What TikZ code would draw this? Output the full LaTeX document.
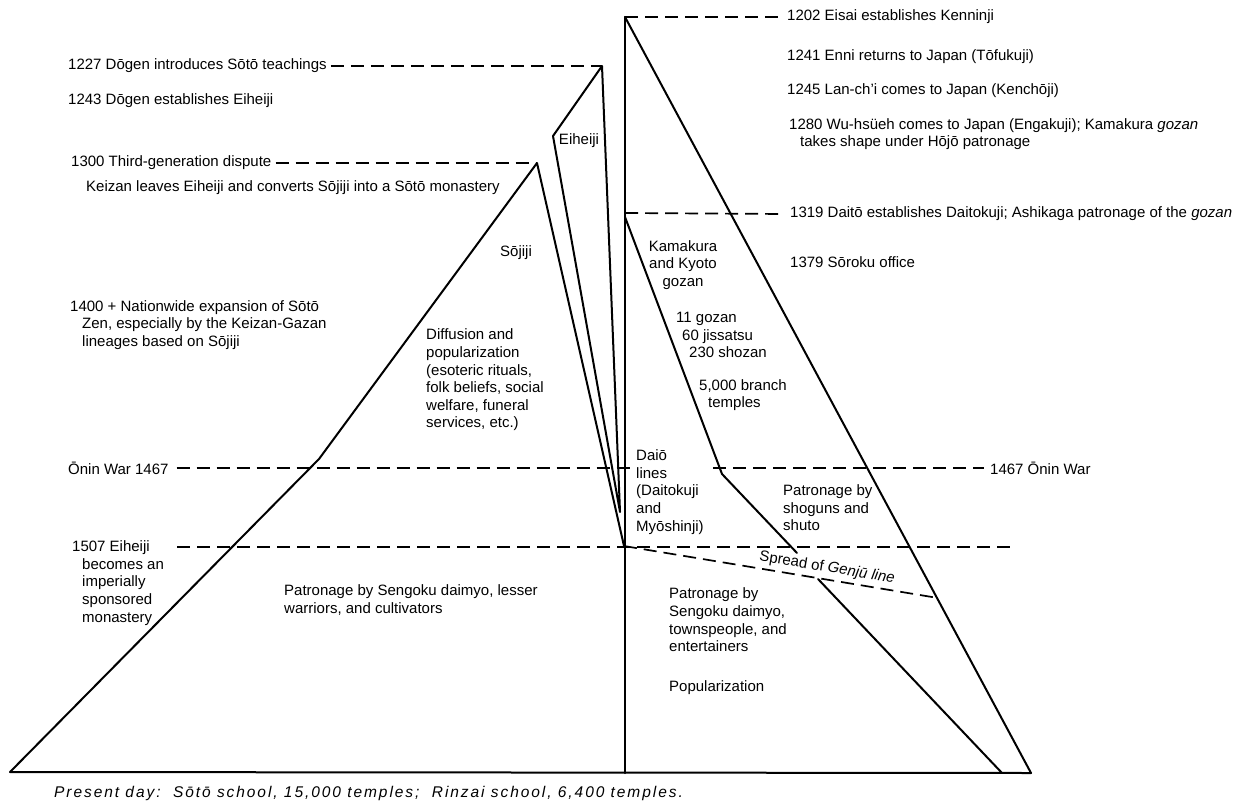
\documentclass[tikz,border=0pt]{standalone}
\usepackage{fontspec}
\setmainfont{Liberation Sans}
\newfontfamily\presentfont[LetterSpace=12.5]{Liberation Sans}
\begin{document}
\begin{tikzpicture}[x=1pt,y=-1pt,
  every node/.style={font=\fontsize{15}{17.6}\selectfont, inner sep=0pt},
  txt/.style={anchor=west, align=left},
  ctr/.style={anchor=center, align=center},
  edge/.style={line width=2pt, line join=round, line cap=round},
  dline/.style={line width=1.7pt, dash pattern=on 13pt off 7pt}]
\useasboundingbox (0,0) rectangle (1241,805);

% key points of the outlines
\coordinate (kenTop) at (625,17);
\coordinate (kenBase) at (625,773);
\coordinate (rzBase) at (1031,773);
\coordinate (stBase) at (10,772);
\coordinate (stKink) at (319,459);
\coordinate (sjTop) at (537,163);
\coordinate (conv) at (624,546);
\coordinate (ehTop) at (602,66);
\coordinate (ehKink) at (553,136);
\coordinate (ehEnd) at (620,512);
\coordinate (gzTop) at (625,217);
\coordinate (gzKink) at (722,474);
\coordinate (gzEnd) at (797,553);
\coordinate (gjStart) at (818,579);
\coordinate (gjBase) at (1002,773);
\coordinate (genjuEnd) at (938,598);
\coordinate (d1319) at (625,213);
\coordinate (onA) at (632,468);
\coordinate (onB) at (713,468);
\coordinate (d1507L) at (177,547);
\coordinate (d1507R) at (1015,547);

% outlines
\draw[edge] (stBase) -- (rzBase);
\draw[edge] (stBase) -- (stKink) -- (sjTop) -- (conv);
\draw[edge] (ehEnd) -- (ehKink) -- (ehTop) -- cycle;
\draw[edge] (kenTop) -- (kenBase);
\draw[edge] (kenTop) -- (rzBase);
\draw[edge] (gzTop) -- (gzKink) -- (gzEnd);
\draw[edge] (gjStart) -- (gjBase);

% right-hand texts
\node[txt] (t1202) at (787,17) {1202 Eisai establishes Kenninji};
\node[txt] (t1241) at (787,57) {1241 Enni returns to Japan (Tōfukuji)};
\node[txt] (t1245) at (787,91) {1245 Lan-ch’i comes to Japan (Kenchōji)};
\node[txt] (t1280) at (789,134) {1280 Wu-hsüeh comes to Japan (Engakuji); Kamakura \textit{gozan}\\\hspace*{11pt}takes shape under Hōjō patronage};
\node[txt] (t1319) at (790,214) {1319 Daitō establishes Daitokuji; Ashikaga patronage of the \textit{gozan}};
\node[txt] (t1379) at (790,262) {1379 Sōroku office};
\node[txt] (tOninR) at (990,468) {1467 Ōnin War};

% left-hand texts
\node[txt] (t1227) at (68,66) {1227 Dōgen introduces Sōtō teachings};
\node[txt] (t1243) at (68,101) {1243 Dōgen establishes Eiheiji};
\node[txt] (t1300) at (71,163) {1300 Third-generation dispute};
\node[txt] (tKeizan) at (86,188) {Keizan leaves Eiheiji and converts Sōjiji into a Sōtō monastery};
\node[txt] (t1400) at (70,325) {1400 + Nationwide expansion of Sōtō\\\hspace*{12pt}Zen, especially by the Keizan-Gazan\\\hspace*{12pt}lineages based on Sōjiji};
\node[txt] (tOninL) at (68,468) {Ōnin War 1467};
\node[txt] (t1507) at (72,583) {1507 Eiheiji\\\hspace*{10pt}becomes an\\\hspace*{10pt}imperially\\\hspace*{10pt}sponsored\\\hspace*{10pt}monastery};
\node[txt] (tPatronL) at (284,600) {Patronage by Sengoku daimyo, lesser\\warriors, and cultivators};

% inner labels
\node[ctr] (tEiheiji) at (579,141) {Eiheiji};
\node[ctr] (tSojiji) at (516,253) {Sōjiji};
\node[txt] (tDiffusion) at (426,380) {Diffusion and\\popularization\\(esoteric rituals,\\folk beliefs, social\\welfare, funeral\\services, etc.)};
\node[ctr] (tKamakura) at (683,265) {Kamakura\\and Kyoto\\gozan};
\node[txt] (tCounts) at (676,335) {11 gozan\\\hspace*{6pt}60 jissatsu\\\hspace*{13pt}230 shozan};
\node[txt] (tBranch) at (699,395) {5,000 branch\\\hspace*{9pt}temples};
\node[txt] (tDaio) at (636,492) {Daiō\\lines\\(Daitokuji\\and\\Myōshinji)};
\node[txt] (tShogun) at (783,508) {Patronage by\\shoguns and\\shuto};
\node[txt] (tPatronR) at (669,620) {Patronage by\\Sengoku daimyo,\\townspeople, and\\entertainers};
\node[txt] (tPopular) at (669,688) {Popularization};
\node[anchor=center, rotate=-9.5] (tGenju) at (827,568) {Spread of \textit{Genjū line}};
\node[txt, font=\presentfont\itshape\fontsize{15.5}{17}\selectfont] (tPresent) at (54,793) {Present day:\ \ Sōtō school, 15,000 temples;\ \ Rinzai school, 6,400 temples.};

% dashed date lines
\draw[dline] (kenTop) -- ([xshift=-3pt]t1202.west);
\draw[dline] ([xshift=4pt]t1227.east) -- (ehTop);
\draw[dline] ([xshift=4pt]t1300.east) -- (sjTop);
\draw[dline] (d1319) -- ([xshift=-6pt]t1319.west);
\draw[dline] ([xshift=8pt]tOninL.east) -- (onA);
\draw[dline] (onB) -- ([xshift=-6pt]tOninR.west);
\draw[dline] (d1507L) -- (d1507R);
\draw[dline] (conv) -- (genjuEnd);
\end{tikzpicture}
\end{document}
